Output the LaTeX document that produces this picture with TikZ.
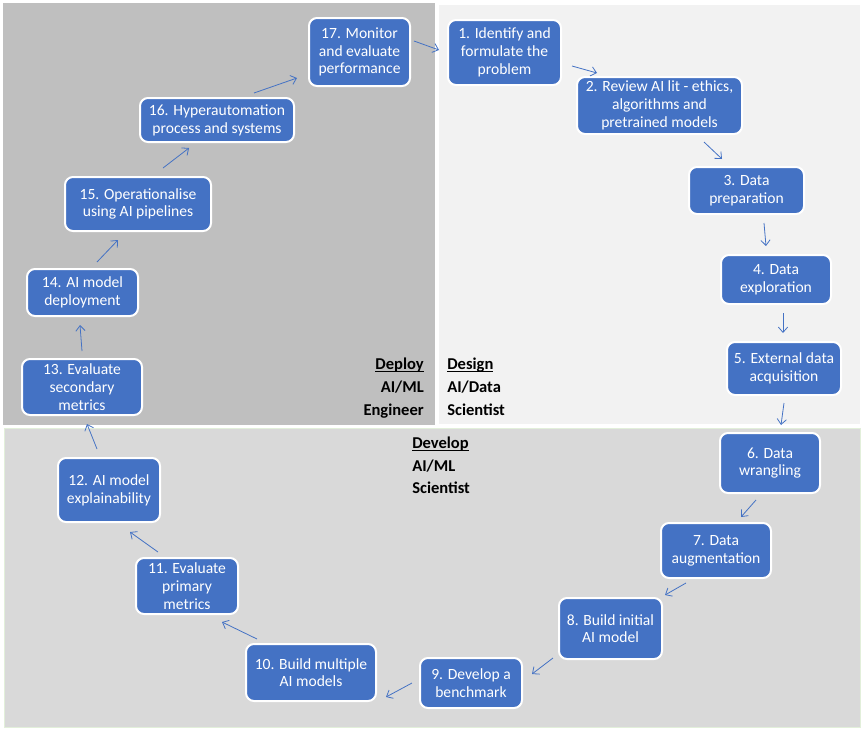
\documentclass[tikz,border=0pt]{standalone}
\usepackage{fontspec}
\setmainfont{Carlito}
\usetikzlibrary{arrows.meta}
\definecolor{boxblue}{HTML}{4472C4}
\definecolor{deploygrey}{HTML}{BFBFBF}
\definecolor{designgrey}{HTML}{F2F2F2}
\definecolor{developgrey}{HTML}{D9D9D9}
\definecolor{developedge}{HTML}{E2EFDA}
\newcommand\myul[1]{\setbox0\hbox{#1}\rlap{\rule[-2.2pt]{\wd0}{0.6pt}}\box0}
\tikzset{
  stepbox/.style 2 args={draw=white, line width=1.5pt, fill=boxblue, rounded corners=6pt,
    text=white, align=center, inner sep=2pt,
    font=\fontsize{11.7}{13.3}\selectfont,
    minimum width={(#1-2)*0.75pt}, minimum height={(#2-2)*0.75pt}},
  flow/.style={draw=boxblue, line width=0.6pt, -{Straight Barb[length=4pt,width=7pt]}},
  rolelabel/.style={font=\bfseries\fontsize{12.4}{14}\selectfont, inner sep=0pt}
}
\begin{document}
\begin{tikzpicture}[x=0.75pt,y=-0.75pt]
\useasboundingbox (0,0) rectangle (864,733);
\fill[white] (0,0) rectangle (864,733);
% regions
\fill[deploygrey] (3,3) rectangle (435,425);
\fill[designgrey] (439,5) rectangle (860,424);
\filldraw[fill=developgrey, draw=developedge, line width=0.75pt] (4.5,428) rectangle (860,727);

% nodes
\node[stepbox={115}{67}] (n1) at (504.5,52.5) {1. Identify and\\formulate the\\problem};
\node[stepbox={167}{59}] (n2) at (659.5,105.5) {2. Review AI lit - ethics,\\algorithms and\\pretrained models};
\node[stepbox={117}{49}] (n3) at (746.5,190.5) {3. Data\\preparation};
\node[stepbox={112}{51}] (n4) at (776,279.5) {4. Data\\exploration};
\node[stepbox={116}{55}] (n5) at (784,368.5) {5. External data\\acquisition};
\node[stepbox={102}{62}] (n6) at (770,463) {6. Data\\wrangling};
\node[stepbox={112}{57}] (n7) at (716,550.5) {7. Data\\augmentation};
\node[stepbox={105}{63}] (n8) at (610.5,628.5) {8. Build initial\\AI model};
\node[stepbox={104}{52}] (n9) at (471,683) {9. Develop a\\benchmark};
\node[stepbox={132}{59}] (n10) at (311,672.5) {10. Build multiple\\AI models};
\node[stepbox={104}{58}] (n11) at (187,586) {11. Evaluate\\primary\\metrics};
\node[stepbox={104}{66}] (n12) at (109,490) {12. AI model\\explainability};
\node[stepbox={122}{58}] (n13) at (82,387) {13. Evaluate\\secondary\\metrics};
\node[stepbox={113}{49}] (n14) at (82.5,292.5) {14. AI model\\deployment};
\node[stepbox={148}{56}] (n15) at (138,204) {15. Operationalise\\using AI pipelines};
\node[stepbox={156}{46}] (n16) at (217,120) {16. Hyperautomation\\process and systems};
\node[stepbox={103}{70}] (n17) at (359.5,52) {17. Monitor\\and evaluate\\performance};

% connector end points
\coordinate (a17s) at (414,41);   \coordinate (a17e) at (439,50);
\coordinate (a1s)  at (572,66);   \coordinate (a1e)  at (597,73);
\coordinate (a2s)  at (704,142);  \coordinate (a2e)  at (722,159);
\coordinate (a3s)  at (764,223);  \coordinate (a3e)  at (766,246);
\coordinate (a4s)  at (783,313);  \coordinate (a4e)  at (783,333);
\coordinate (a5s)  at (784,403);  \coordinate (a5e)  at (781,425);
\coordinate (a6s)  at (756,500);  \coordinate (a6e)  at (741,517);
\coordinate (a7s)  at (686,583);  \coordinate (a7e)  at (665,595);
\coordinate (a8s)  at (553,658);  \coordinate (a8e)  at (532,674);
\coordinate (a9s)  at (412,683);  \coordinate (a9e)  at (386,697);
\coordinate (a10s) at (257,639);  \coordinate (a10e) at (222,622);
\coordinate (a11s) at (158,552);  \coordinate (a11e) at (130,532);
\coordinate (a12s) at (97,449);   \coordinate (a12e) at (87,424);
\coordinate (a13s) at (82,351);   \coordinate (a13e) at (80,325);
\coordinate (a14s) at (97,262);   \coordinate (a14e) at (118,240);
\coordinate (a15s) at (163,168);  \coordinate (a15e) at (189,148);
\coordinate (a16s) at (254,93);   \coordinate (a16e) at (297,78);

\foreach \i in {1,...,17} {\draw[flow] (a\i s) -- (a\i e);}

% role labels
\node[rolelabel, anchor=base east] (dep1) at (424,369) {\myul{Deploy}};
\node[rolelabel, anchor=base east] (dep2) at (424,392) {AI/ML};
\node[rolelabel, anchor=base east] (dep3) at (424,415) {Engineer};
\node[rolelabel, anchor=base west] (des1) at (447,369) {\myul{Design}};
\node[rolelabel, anchor=base west] (des2) at (447,392) {AI/Data};
\node[rolelabel, anchor=base west] (des3) at (447,415) {Scientist};
\node[rolelabel, anchor=base west] (dev1) at (412,448) {\myul{Develop}};
\node[rolelabel, anchor=base west] (dev2) at (412,471) {AI/ML};
\node[rolelabel, anchor=base west] (dev3) at (412,493) {Scientist};
\end{tikzpicture}
\end{document}
